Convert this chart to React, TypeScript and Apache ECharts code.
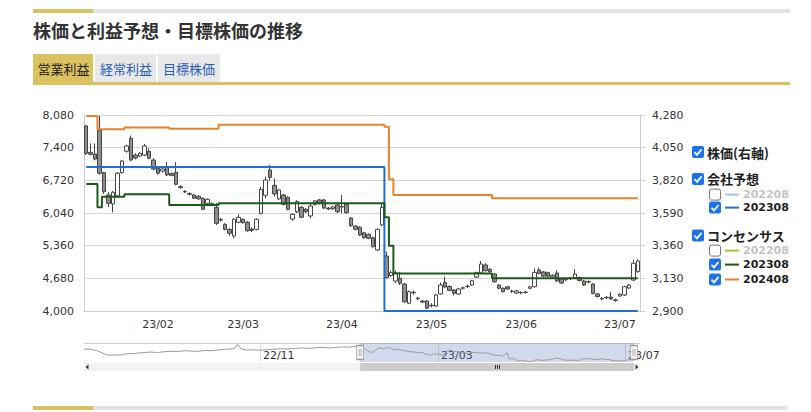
import React, { useEffect, useRef } from 'react';
import * as echarts from 'echarts';

// ---------- calendar ----------
const HOLIDAYS = [
  '2022-07-18', '2022-08-11', '2022-09-19', '2022-09-23', '2022-10-10', '2022-11-03', '2022-11-23',
  '2023-01-02', '2023-01-03', '2023-01-09', '2023-02-23', '2023-03-21', '2023-05-03', '2023-05-04', '2023-05-05',
];
const NAV_FIRST_DAY = '2022-07-06';
const MAIN_FIRST_DAY = '2023-01-10';
const LAST_DAY = '2023-07-07';
const NAV_LABEL_MONTHS = ['2022-11', '2023-03', '2023-07'];

// ---------- axes ----------
const LEFT_MIN = 4000;
const LEFT_MAX = 8080;
const LEFT_INTERVAL = 680;
const RIGHT_MIN = 2900;
const RIGHT_MAX = 4280;
const RIGHT_INTERVAL = 230;
const NAV_MIN = 2900;
const NAV_MAX = 4420;

// ---------- stock price (right axis): [open, close, low, high] per trading day from 2023-01-10 ----------
const CANDLES: number[][] = [
  [4203, 4010, 3998, 4210], [4017, 4003, 3995, 4080], [4005, 3970, 3960, 4080], [4174, 3870, 3860, 4273],
  [3874, 3740, 3725, 3880], [3717, 3658, 3632, 3738], [3654, 3736, 3595, 3745], [3710, 3870, 3700, 3878],
  [3874, 3956, 3868, 3963], [4025, 4062, 4015, 4070], [4116, 3963, 3955, 4135], [3998, 3977, 3968, 4010],
  [3991, 4010, 3984, 4018], [3998, 4062, 3990, 4076], [4024, 3975, 3968, 4045], [3963, 3900, 3890, 3975],
  [3905, 3870, 3860, 3912], [3885, 3900, 3875, 3910], [3912, 3858, 3850, 3950], [3868, 3855, 3848, 3875],
  [3877, 3792, 3785, 3947], [3775, 3770, 3760, 3785], [3742, 3738, 3730, 3752], [3728, 3722, 3712, 3735],
  [3717, 3694, 3688, 3724], [3708, 3690, 3682, 3715], [3694, 3616, 3610, 3700], [3658, 3686, 3650, 3692],
  [3650, 3658, 3640, 3665], [3630, 3517, 3506, 3660], [3545, 3540, 3530, 3555], [3510, 3475, 3468, 3518],
  [3475, 3447, 3430, 3482], [3428, 3546, 3412, 3552], [3525, 3560, 3518, 3580], [3546, 3522, 3515, 3552],
  [3525, 3465, 3458, 3535], [3477, 3467, 3455, 3490], [3475, 3546, 3468, 3552], [3588, 3757, 3580, 3775],
  [3715, 3822, 3694, 3846], [3893, 3841, 3818, 3928], [3785, 3724, 3705, 3834], [3689, 3752, 3680, 3760],
  [3717, 3651, 3644, 3724], [3701, 3616, 3608, 3708], [3548, 3581, 3535, 3588], [3599, 3670, 3590, 3680],
  [3630, 3560, 3553, 3637], [3616, 3599, 3590, 3625], [3569, 3639, 3553, 3660], [3651, 3675, 3644, 3682],
  [3682, 3658, 3650, 3690], [3682, 3625, 3618, 3689], [3625, 3618, 3610, 3632], [3620, 3633, 3612, 3640],
  [3646, 3599, 3590, 3653], [3635, 3632, 3588, 3717], [3651, 3592, 3585, 3658], [3555, 3500, 3492, 3562],
  [3498, 3475, 3468, 3505], [3490, 3435, 3428, 3497], [3451, 3416, 3409, 3458], [3440, 3412, 3405, 3447],
  [3416, 3353, 3346, 3423], [3330, 3475, 3322, 3482], [3506, 3630, 3498, 3660], [3287, 3135, 3130, 3318],
  [3150, 3170, 3140, 3185], [3111, 3168, 3097, 3184], [3130, 3095, 3083, 3175], [3090, 2965, 2958, 3097],
  [2955, 3036, 2950, 3045], [3032, 3028, 3015, 3045], [2990, 2986, 2975, 3000], [2970, 2963, 2955, 2978],
  [2970, 2920, 2912, 2977], [2940, 2937, 2925, 2955], [2935, 3013, 2930, 3020], [3020, 3083, 3015, 3100],
  [3100, 3069, 3060, 3142], [3072, 3045, 3038, 3080], [3048, 3025, 3010, 3055], [3020, 3055, 3013, 3062],
  [3060, 3064, 3050, 3072], [3072, 3075, 3062, 3085], [3083, 3113, 3076, 3120], [3139, 3170, 3132, 3177],
  [3168, 3231, 3161, 3252], [3224, 3184, 3177, 3238], [3194, 3177, 3170, 3201], [3160, 3106, 3099, 3167],
  [3083, 3060, 3053, 3090], [3060, 3036, 3029, 3067], [3070, 3055, 3048, 3077], [3040, 3037, 3028, 3050],
  [3027, 3041, 3020, 3048], [3030, 3028, 3018, 3040], [3033, 3030, 3022, 3042], [3060, 3070, 3053, 3077],
  [3071, 3172, 3064, 3200], [3189, 3165, 3158, 3205], [3175, 3146, 3139, 3182], [3170, 3145, 3138, 3177],
  [3140, 3152, 3133, 3160], [3168, 3111, 3104, 3185], [3125, 3097, 3090, 3132], [3122, 3120, 3110, 3132],
  [3128, 3130, 3118, 3140], [3135, 3160, 3128, 3195], [3135, 3115, 3108, 3142], [3111, 3083, 3076, 3118],
  [3106, 3104, 3095, 3115], [3090, 3024, 3017, 3097], [3020, 3002, 2995, 3027], [2988, 2985, 2975, 2998],
  [2993, 2996, 2983, 3005], [2998, 2985, 2978, 3036], [2978, 2975, 2965, 2988], [3006, 3018, 2999, 3025],
  [3013, 3071, 3006, 3078], [3062, 3083, 3055, 3090], [3118, 3236, 3111, 3260], [3177, 3252, 3170, 3265],
];

// ---------- operating profit forecasts (left axis): [date the value takes effect, value] ----------
const COMPANY_202308: [string, number][] = [['2023-01-10', 7000], ['2023-04-17', 4000]];
const CONSENSUS_202308: [string, number][] = [
  ['2023-01-10', 6644], ['2023-01-13', 6159], ['2023-01-16', 6380], ['2023-01-23', 6430],
  ['2023-02-06', 6206], ['2023-02-21', 6242], ['2023-04-17', 5951], ['2023-04-18', 5360],
  ['2023-04-19', 4780], ['2023-05-24', 4680],
];
const CONSENSUS_202408: [string, number][] = [
  ['2023-01-10', 8060], ['2023-01-13', 7782], ['2023-01-23', 7820], ['2023-02-06', 7793],
  ['2023-02-21', 7876], ['2023-04-17', 7836], ['2023-04-18', 6742], ['2023-04-19', 6415],
  ['2023-05-24', 6346],
];

// ---------- navigator closes before the shown window ----------
const NAV_EARLY_CLOSE: [string, number][] = [
  ['2022-07-06', 3916], ['2022-07-08', 3940], ['2022-07-12', 3880], ['2022-07-14', 3800],
  ['2022-07-19', 3640], ['2022-07-21', 3480], ['2022-07-25', 3440], ['2022-07-27', 3470],
  ['2022-07-29', 3450], ['2022-08-02', 3520], ['2022-08-04', 3580], ['2022-08-08', 3560],
  ['2022-08-10', 3610], ['2022-08-16', 3650], ['2022-08-19', 3700], ['2022-08-24', 3660],
  ['2022-08-29', 3720], ['2022-09-01', 3760], ['2022-09-06', 3740], ['2022-09-09', 3800],
  ['2022-09-14', 3780], ['2022-09-20', 3750], ['2022-09-26', 3820], ['2022-09-29', 3800],
  ['2022-10-04', 3860], ['2022-10-07', 3900], ['2022-10-13', 3950], ['2022-10-17', 4010],
  ['2022-10-18', 4310], ['2022-10-19', 4060], ['2022-10-20', 3940], ['2022-10-24', 3860],
  ['2022-10-27', 3880], ['2022-10-31', 3840], ['2022-11-02', 3860], ['2022-11-08', 3900],
  ['2022-11-11', 3930], ['2022-11-16', 3960], ['2022-11-21', 3940], ['2022-11-25', 3990],
  ['2022-11-30', 4020], ['2022-12-05', 3990], ['2022-12-08', 4040], ['2022-12-13', 4080],
  ['2022-12-16', 4030], ['2022-12-21', 4060], ['2022-12-26', 4110], ['2022-12-29', 4080],
  ['2023-01-04', 4140], ['2023-01-06', 4120],
];

// ---------- styles ----------
const GOLD = '#dbc160';
const BAR_GRAY = '#e3e3e3';
const ORANGE = '#e8822a';
const BLUE = '#1f6fd6';
const LIGHT_BLUE = '#9dc3f2';
const GREEN = '#1b5a17';
const YELLOW_GREEN = '#a8c43c';
const CHECK_BLUE = '#1a73e8';
const JP = '"Noto Sans CJK JP", "Noto Sans", sans-serif';
const LATIN = '"DejaVu Sans", Verdana, sans-serif';

function tradingDays(from: string, to: string): string[] {
  const out: string[] = [];
  const d = new Date(from + 'T00:00:00Z');
  const end = new Date(to + 'T00:00:00Z');
  while (d.getTime() <= end.getTime()) {
    const wd = d.getUTCDay();
    const s = d.toISOString().slice(0, 10);
    if (wd !== 0 && wd !== 6 && HOLIDAYS.indexOf(s) < 0) out.push(s);
    d.setUTCDate(d.getUTCDate() + 1);
  }
  return out;
}

const NAV_DATES = tradingDays(NAV_FIRST_DAY, LAST_DAY);
const MAIN_DATES = NAV_DATES.filter((d) => d >= MAIN_FIRST_DAY);

function expandSteps(steps: [string, number][], dates: string[]) {
  return dates.map((d) => {
    let v: number | null = null;
    for (const [sd, sv] of steps) if (sd <= d) v = sv;
    return v;
  });
}

const ym = (d: string) => d.slice(2, 4) + '/' + d.slice(5, 7);
const fmt = (v: number) => String(v).replace(/\B(?=(\d{3})+(?!\d))/g, ',');

const isMainMonthStart = (i: number) =>
  i > 0 && MAIN_DATES[i].slice(0, 7) !== MAIN_DATES[i - 1].slice(0, 7);
const isNavLabel = (i: number) =>
  i > 0 &&
  NAV_DATES[i].slice(0, 7) !== NAV_DATES[i - 1].slice(0, 7) &&
  NAV_LABEL_MONTHS.indexOf(NAV_DATES[i].slice(0, 7)) >= 0;

const HANDLE_PATH = 'path://M0.5,0.5H7.5V14.5H0.5Z M3,4V11 M5,4V11';

function txt(x: number, y: number, text: string, size: number, fill: string, weight = 'normal', family = JP) {
  return {
    type: 'text',
    x,
    y,
    style: {
      text,
      fill,
      fontSize: size,
      lineHeight: size,
      fontWeight: weight,
      fontFamily: family,
      align: 'left',
      verticalAlign: 'middle',
      textAlign: 'left',
      textVerticalAlign: 'middle',
    },
  };
}

function checkbox(x: number, y: number, checked: boolean): any[] {
  if (checked) {
    return [
      { type: 'rect', shape: { x, y, width: 12, height: 12, r: 2 }, style: { fill: CHECK_BLUE } },
      {
        type: 'polyline',
        shape: { points: [[x + 2.5, y + 6.2], [x + 5, y + 8.8], [x + 9.6, y + 3.4]] },
        style: { stroke: '#fff', lineWidth: 1.8, fill: null },
      },
    ];
  }
  return [
    {
      type: 'rect',
      shape: { x: x + 0.5, y: y + 0.5, width: 11, height: 11, r: 2 },
      style: { fill: '#fff', stroke: '#767676', lineWidth: 1 },
    },
  ];
}

function legendRow(y: number, checked: boolean, color: string, label: string): any[] {
  return [
    ...checkbox(709, y - 6, checked),
    { type: 'line', shape: { x1: 725, y1: y, x2: 739, y2: y }, style: { stroke: color, lineWidth: 2 } },
    txt(743, y, label, 11, checked ? '#222' : '#c4c4c4', 'bold', LATIN),
  ];
}

function buildGraphics(x0: number, x1: number): any[] {
  const g: any[] = [];
  // header
  g.push({ type: 'rect', shape: { x: 33, y: 9, width: 60, height: 4 }, style: { fill: GOLD } });
  g.push({ type: 'rect', shape: { x: 93, y: 9, width: 697, height: 4 }, style: { fill: BAR_GRAY } });
  g.push(txt(33, 30, '株価と利益予想・目標株価の推移', 18, '#333', 'bold'));
  // tabs
  g.push({ type: 'rect', shape: { x: 33, y: 54, width: 60, height: 28 }, style: { fill: GOLD } });
  g.push({ type: 'rect', shape: { x: 95, y: 54, width: 61, height: 28 }, style: { fill: '#e8e8e8' } });
  g.push({ type: 'rect', shape: { x: 158, y: 54, width: 62, height: 28 }, style: { fill: '#e8e8e8' } });
  g.push(txt(37.5, 68.5, '営業利益', 13, '#222'));
  g.push(txt(100, 68.5, '経常利益', 13, '#2a5fb8'));
  g.push(txt(163, 68.5, '目標株価', 13, '#2a5fb8'));
  g.push({ type: 'rect', shape: { x: 33, y: 82, width: 757, height: 3 }, style: { fill: GOLD } });
  // footer
  g.push({ type: 'rect', shape: { x: 33, y: 406, width: 60, height: 4 }, style: { fill: GOLD } });
  g.push({ type: 'rect', shape: { x: 93, y: 406, width: 695, height: 4 }, style: { fill: BAR_GRAY } });
  // legend
  g.push(...checkbox(692, 146, true));
  g.push(txt(707, 152, '株価(右軸)', 13, '#222', 'bold'));
  g.push(...checkbox(692, 173, true));
  g.push(txt(707, 178.8, '会社予想', 13, '#222', 'bold'));
  g.push(...legendRow(194.6, false, LIGHT_BLUE, '202208'));
  g.push(...legendRow(207.6, true, BLUE, '202308'));
  g.push(...checkbox(692, 229.5, true));
  g.push(txt(707, 235.2, 'コンセンサス', 13, '#222', 'bold'));
  g.push(...legendRow(250.6, false, YELLOW_GREEN, '202208'));
  g.push(...legendRow(264.6, true, GREEN, '202308'));
  g.push(...legendRow(279.5, true, ORANGE, '202408'));
  // navigator outline
  g.push({ type: 'line', shape: { x1: 84, y1: 343.5, x2: 640, y2: 343.5 }, style: { stroke: '#cccccc', lineWidth: 1 } });
  // scrollbar
  g.push({ type: 'rect', shape: { x: 84, y: 363, width: 556, height: 8 }, style: { fill: '#f2f2f2' } });
  g.push({ type: 'rect', shape: { x: x0, y: 363, width: x1 - x0, height: 8 }, style: { fill: '#cccccc' } });
  const c = Math.round((x0 + x1) / 2) + 0.5;
  [-2, 0, 2].forEach((dx) =>
    g.push({ type: 'line', shape: { x1: c + dx, y1: 365, x2: c + dx, y2: 369 }, style: { stroke: '#333', lineWidth: 1 } }),
  );
  g.push({ type: 'polygon', shape: { points: [[85.5, 367], [88.5, 364.5], [88.5, 369.5]] }, style: { fill: '#333' } });
  g.push({ type: 'polygon', shape: { points: [[638.5, 367], [635.5, 364.5], [635.5, 369.5]] }, style: { fill: '#333' } });
  return g;
}

export default function App() {
  const ref = useRef<HTMLDivElement>(null);

  useEffect(() => {
    if (!ref.current) return;
    const chart = echarts.init(ref.current, null, { renderer: 'svg' });

    const navData = [
      ...NAV_EARLY_CLOSE.map(([d, v]) => [d, v]),
      ...MAIN_DATES.map((d, i) => [d, CANDLES[i][1]]),
    ];
    const navMid = (NAV_MIN + NAV_MAX) / 2;

    const option: any = {
      animation: false,
      backgroundColor: '#ffffff',
      textStyle: { fontFamily: LATIN },
      grid: [
        { left: 84, top: 115, width: 556, height: 196 },
        { left: 84, top: 343, width: 550, height: 19 },
      ],
      xAxis: [
        {
          type: 'category',
          gridIndex: 0,
          data: MAIN_DATES,
          boundaryGap: true,
          axisLine: { lineStyle: { color: '#cccccc' } },
          axisTick: { alignWithLabel: true, interval: isMainMonthStart, length: 5, lineStyle: { color: '#cccccc' } },
          axisLabel: { interval: isMainMonthStart, formatter: ym, color: '#333', fontSize: 11, margin: 8, fontFamily: LATIN },
          splitLine: { show: false },
        },
        {
          type: 'category',
          gridIndex: 1,
          data: NAV_DATES,
          boundaryGap: false,
          axisLine: { show: false },
          axisTick: { show: false },
          axisLabel: {
            inside: true,
            interval: isNavLabel,
            formatter: ym,
            align: 'left',
            padding: [0, 0, 0, 3],
            margin: 1,
            color: '#333',
            fontSize: 11,
            fontFamily: LATIN,
          },
          splitLine: { show: true, interval: isNavLabel, lineStyle: { color: '#dddddd' } },
        },
      ],
      yAxis: [
        {
          type: 'value',
          gridIndex: 0,
          position: 'left',
          min: LEFT_MIN,
          max: LEFT_MAX,
          interval: LEFT_INTERVAL,
          axisLine: { show: true, lineStyle: { color: '#cccccc' } },
          axisTick: { show: false },
          axisLabel: { formatter: fmt, color: '#333', fontSize: 11, margin: 10, fontFamily: LATIN },
          splitLine: { lineStyle: { color: '#d6d6d6' } },
        },
        {
          type: 'value',
          gridIndex: 0,
          position: 'right',
          min: RIGHT_MIN,
          max: RIGHT_MAX,
          interval: RIGHT_INTERVAL,
          axisLine: { show: true, lineStyle: { color: '#cccccc' } },
          axisTick: { show: true, length: 5, lineStyle: { color: '#cccccc' } },
          axisLabel: { formatter: fmt, color: '#333', fontSize: 11, margin: 12, fontFamily: LATIN },
          splitLine: { show: false },
        },
        { type: 'value', gridIndex: 1, min: NAV_MIN, max: NAV_MAX, show: false, splitLine: { show: false } },
      ],
      series: [
        {
          type: 'candlestick',
          name: '株価(右軸)',
          xAxisIndex: 0,
          yAxisIndex: 1,
          data: CANDLES.map((c) => [c[0], c[1], c[2], c[3]]),
          barWidth: 4,
          itemStyle: {
            color: '#ffffff',
            color0: '#8e8e8e',
            borderColor: '#444444',
            borderColor0: '#444444',
            borderColorDoji: '#444444',
            borderWidth: 1,
          },
        },
        {
          type: 'line',
          name: '会社予想 202308',
          xAxisIndex: 0,
          yAxisIndex: 0,
          data: expandSteps(COMPANY_202308, MAIN_DATES),
          step: 'middle',
          symbol: 'none',
          lineStyle: { color: BLUE, width: 2 },
        },
        {
          type: 'line',
          name: 'コンセンサス 202308',
          xAxisIndex: 0,
          yAxisIndex: 0,
          data: expandSteps(CONSENSUS_202308, MAIN_DATES),
          step: 'middle',
          symbol: 'none',
          lineStyle: { color: GREEN, width: 2 },
        },
        {
          type: 'line',
          name: 'コンセンサス 202408',
          xAxisIndex: 0,
          yAxisIndex: 0,
          data: expandSteps(CONSENSUS_202408, MAIN_DATES),
          step: 'middle',
          symbol: 'none',
          lineStyle: { color: ORANGE, width: 2 },
        },
        {
          type: 'line',
          name: 'navigator',
          xAxisIndex: 1,
          yAxisIndex: 2,
          data: navData,
          symbol: 'none',
          silent: true,
          lineStyle: { color: '#9a9a9a', width: 1 },
          markArea: {
            silent: true,
            itemStyle: { color: 'rgba(102,133,194,0.3)' },
            data: [[{ xAxis: MAIN_FIRST_DAY }, { xAxis: LAST_DAY }]],
          },
          markPoint: {
            silent: true,
            symbol: HANDLE_PATH,
            symbolSize: [7, 14],
            symbolKeepAspect: false,
            itemStyle: { color: '#f2f2f2', borderColor: '#999999', borderWidth: 1 },
            label: { show: false },
            data: [{ coord: [MAIN_FIRST_DAY, navMid] }, { coord: [LAST_DAY, navMid] }],
          },
        },
      ],
    };

    chart.setOption(option);
    const x0 = chart.convertToPixel({ xAxisIndex: 1 } as any, NAV_DATES.indexOf(MAIN_FIRST_DAY)) as number;
    const x1 = chart.convertToPixel({ xAxisIndex: 1 } as any, NAV_DATES.length - 1) as number;
    chart.setOption({ graphic: buildGraphics(x0, x1) });

    return () => chart.dispose();
  }, []);

  return (
    <div
      ref={ref}
      style={{ position: 'absolute', left: 0, top: 0, width: 811, height: 412, background: '#fff' }}
    />
  );
}
